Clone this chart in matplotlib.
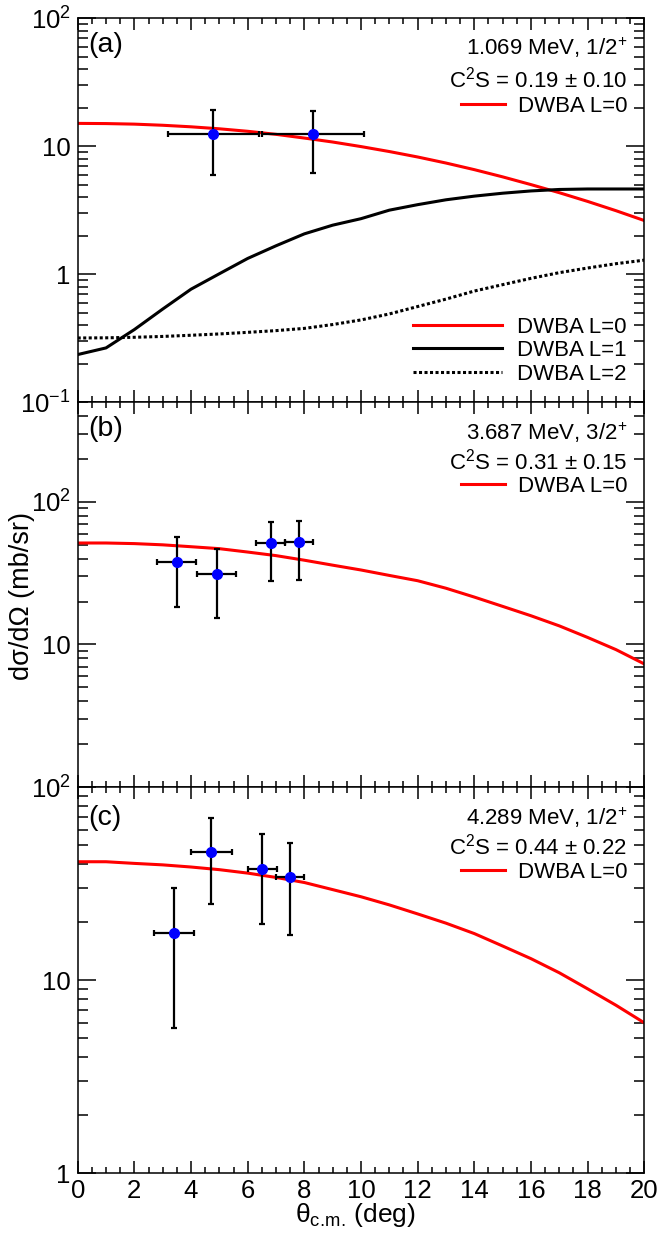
import numpy as np
import matplotlib
matplotlib.use("Agg")
import matplotlib.pyplot as plt
from matplotlib.lines import Line2D
from matplotlib.ticker import FixedLocator, LogLocator, NullFormatter, MultipleLocator

plt.rcParams['font.family'] = ['Liberation Sans', 'DejaVu Sans']
plt.rcParams['mathtext.fontset'] = 'custom'
plt.rcParams['mathtext.rm'] = 'Liberation Sans'
plt.rcParams['mathtext.it'] = 'Liberation Sans:italic'
plt.rcParams['mathtext.bf'] = 'Liberation Sans:bold'

# angle grid of the DWBA curves (deg)
theta = [0, 1, 2, 3, 4, 5, 6, 7, 8, 9, 10, 11, 12, 13, 14, 15, 16, 17, 18, 19, 20]

# panel (a): 1.069 MeV
a_L0 = [15.1, 15.05, 14.9, 14.6, 14.2, 13.7, 13.1, 12.4, 11.6, 10.8, 9.95,
        9.1, 8.25, 7.4, 6.57, 5.77, 5.02, 4.34, 3.71, 3.14, 2.63]
a_L1 = [0.236, 0.266, 0.37, 0.535, 0.765, 1.01, 1.33, 1.67, 2.07, 2.42, 2.72,
        3.17, 3.5, 3.82, 4.08, 4.3, 4.48, 4.6, 4.64, 4.64, 4.64]
a_L2 = [0.318, 0.319, 0.322, 0.327, 0.334, 0.342, 0.352, 0.363, 0.378, 0.405, 0.44,
        0.49, 0.56, 0.64, 0.74, 0.83, 0.93, 1.03, 1.12, 1.21, 1.29]
a_x = [4.79, 8.30]
a_xerr = [1.6, 1.8]
a_y = [12.4, 12.4]
a_ylo = [6.0, 6.2]
a_yhi = [19.1, 18.8]

# panel (b): 3.687 MeV
b_L0 = [51.5, 51.5, 51.0, 50.0, 48.5, 47.0, 44.5, 42.0, 39.0, 36.0, 33.3,
        30.5, 28.0, 24.8, 21.5, 18.5, 15.9, 13.5, 11.2, 9.2, 7.3]
b_x = [3.49, 4.90, 6.81, 7.81]
b_xerr = [0.7, 0.7, 0.5, 0.5]
b_y = [37.9, 31.1, 51.1, 52.4]
b_ylo = [18.2, 15.4, 27.9, 28.4]
b_yhi = [57.2, 46.6, 72.8, 73.6]

# panel (c): 4.289 MeV
c_L0 = [41.0, 41.0, 40.2, 39.5, 38.5, 37.3, 35.8, 34.0, 32.0, 29.4, 27.0,
        24.5, 22.0, 19.7, 17.4, 15.0, 12.9, 10.9, 9.0, 7.4, 6.0]
c_x = [3.40, 4.71, 6.52, 7.49]
c_xerr = [0.7, 0.72, 0.5, 0.5]
c_y = [17.5, 46.3, 37.8, 34.2]
c_ylo = [5.62, 24.9, 19.4, 17.1]
c_yhi = [29.8, 68.9, 56.9, 51.5]

fig = plt.figure(figsize=(6.59, 12.34), dpi=100)
left, width = 0.1179, 0.8598
ax_a = fig.add_axes([left, 0.67399, width, 0.31118])
ax_b = fig.add_axes([left, 0.36224, width, 0.31175])
ax_c = fig.add_axes([left, 0.04943, width, 0.31280])

RED = '#ff0000'


def style(ax, ylim, yt, ytl, show_x):
    ax.set_xlim(0, 20)
    ax.set_yscale('log')
    ax.set_ylim(*ylim)
    ax.xaxis.set_major_locator(MultipleLocator(2))
    ax.xaxis.set_minor_locator(MultipleLocator(0.5))
    ax.yaxis.set_major_locator(FixedLocator(yt))
    ax.set_yticklabels(ytl)
    ax.yaxis.set_minor_locator(LogLocator(base=10, subs=np.arange(2, 10), numticks=20))
    ax.yaxis.set_minor_formatter(NullFormatter())
    ax.tick_params(axis='both', which='both', direction='in', top=True, right=True,
                   width=1.1, labelsize=18.5)
    ax.tick_params(axis='y', which='major', length=13, pad=5)
    ax.tick_params(axis='y', which='minor', length=7)
    ax.tick_params(axis='x', which='major', length=8.5, pad=4)
    ax.tick_params(axis='x', which='minor', length=4.2)
    if not show_x:
        ax.tick_params(axis='x', labelbottom=False)
    for s in ax.spines.values():
        s.set_linewidth(1.1)


def points(ax, x, xerr, y, ylo, yhi):
    yerr = [np.array(y) - np.array(ylo), np.array(yhi) - np.array(y)]
    ax.errorbar(x, y, xerr=xerr, yerr=yerr, fmt='o', color='black', ecolor='black',
                elinewidth=1.6, capsize=2.3, capthick=1.6, markersize=7,
                markerfacecolor='#0000ff', markeredgecolor='#0000ff', zorder=5)


def header(ax, lines, ys, leg_y):
    for txt, yy in zip(lines, ys):
        ax.text(0.9695, yy, txt, transform=ax.transAxes, ha='right', va='center',
                fontsize=16)
    h = Line2D([], [], color=RED, lw=2.2)
    leg = ax.legend(handles=[h], labels=['DWBA L=0'], loc='center right',
                    bbox_to_anchor=(0.9695, leg_y), frameon=False, borderpad=0,
                    borderaxespad=0, handlelength=2.0, handletextpad=0.55,
                    fontsize=16)
    return leg


# (a)
style(ax_a, (0.1, 100), [0.1, 1, 10, 100], ['$10^{-1}$', '1', '10', '$10^{2}$'], False)
l0, = ax_a.plot(theta, a_L0, color=RED, lw=2.2)
l1, = ax_a.plot(theta, a_L1, color='black', lw=2.2)
l2, = ax_a.plot(theta, a_L2, color='black', lw=2.2, linestyle=(0, (1, 0.8)))
points(ax_a, a_x, a_xerr, a_y, a_ylo, a_yhi)
leg1 = header(ax_a, ['1.069 MeV, 1/2$^{+}$', 'C$^{2}$S = 0.19 ± 0.10'], [0.9227, 0.8393], 0.7716)
ax_a.add_artist(leg1)
ax_a.legend(handles=[l0, l1, l2], labels=['DWBA L=0', 'DWBA L=1', 'DWBA L=2'],
            loc='center right', bbox_to_anchor=(0.9695, 0.1344), frameon=False,
            borderpad=0, borderaxespad=0, handlelength=4.0, handletextpad=0.7,
            labelspacing=0.12, fontsize=16)
ax_a.text(0.0187, 0.93, '(a)', transform=ax_a.transAxes, fontsize=20.5, va='center')

# (b)
style(ax_b, (1, 500), [10, 100], ['10', '$10^{2}$'], False)
ax_b.plot(theta, b_L0, color=RED, lw=2.2)
points(ax_b, b_x, b_xerr, b_y, b_ylo, b_yhi)
header(ax_b, ['3.687 MeV, 3/2$^{+}$', 'C$^{2}$S = 0.31 ± 0.15'], [0.920, 0.8456], 0.7806)
ax_b.text(0.0187, 0.93, '(b)', transform=ax_b.transAxes, fontsize=20.5, va='center')

# (c)
style(ax_c, (1, 100), [1, 10, 100], ['1', '10', '$10^{2}$'], True)
ax_c.plot(theta, c_L0, color=RED, lw=2.2)
points(ax_c, c_x, c_xerr, c_y, c_ylo, c_yhi)
header(ax_c, ['4.289 MeV, 1/2$^{+}$', 'C$^{2}$S = 0.44 ± 0.22'], [0.9197, 0.8453], 0.778)
ax_c.text(0.0187, 0.92, '(c)', transform=ax_c.transAxes, fontsize=20.5, va='center')

fig.text(0.034, 1 - 596 / 1234, 'd\u03c3/d\u03a9 (mb/sr)', rotation=90, ha='center',
         va='center', fontsize=19.5)
fig.text(355 / 659, 1 - 1215 / 1234, '\u03b8$_{\\rm c.\\!m.\\!}$ (deg)', ha='center',
         va='center', fontsize=19)

fig.savefig('out.png', dpi=100)
